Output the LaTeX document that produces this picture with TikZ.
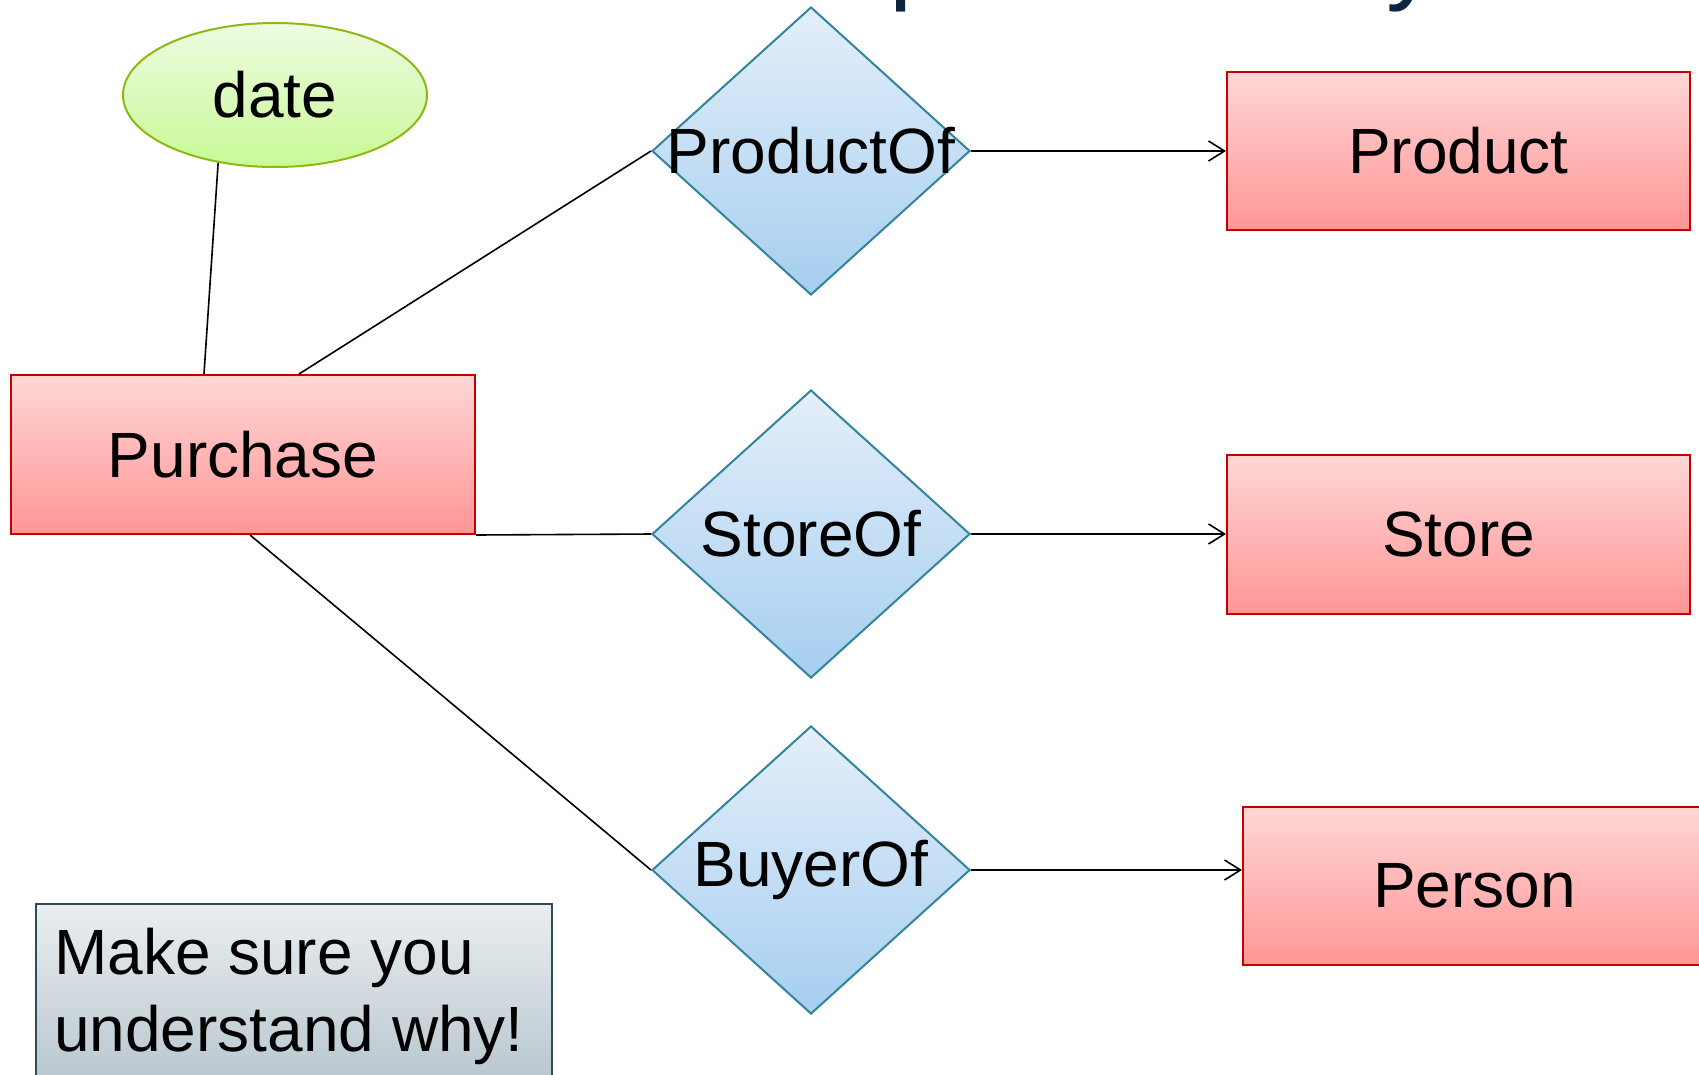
\documentclass[tikz,border=0pt]{standalone}
\usepackage{fontspec}
\setmainfont{Liberation Sans}
\usetikzlibrary{shapes.geometric,arrows.meta}

\definecolor{entTop}{RGB}{255,214,214}
\definecolor{entBot}{RGB}{255,150,150}
\definecolor{entLine}{RGB}{200,0,0}
\definecolor{relTop}{RGB}{228,239,250}
\definecolor{relBot}{RGB}{166,206,239}
\definecolor{relLine}{RGB}{49,132,155}
\definecolor{attTop}{RGB}{238,251,226}
\definecolor{attBot}{RGB}{200,250,150}
\definecolor{attLine}{RGB}{140,185,20}
\definecolor{noteTop}{RGB}{234,238,240}
\definecolor{noteBot}{RGB}{178,194,202}
\definecolor{noteLine}{RGB}{46,75,90}
\definecolor{titleBlue}{RGB}{15,36,62}

\tikzset{
  big/.style={font=\fontsize{64}{72}\selectfont},
  entity/.style={rectangle, draw=entLine, line width=2pt, top color=entTop,
    bottom color=entBot, inner sep=0pt, big},
  relship/.style={diamond, draw=relLine, line width=2pt, top color=relTop,
    bottom color=relBot, inner sep=0pt, minimum width=318pt, minimum height=288pt},
  attrib/.style={ellipse, draw=attLine, line width=2pt, top color=attTop,
    bottom color=attBot, inner sep=0pt, minimum width=304pt, minimum height=144pt, big},
  link/.style={draw=black, line width=1.6pt},
  arrowlink/.style={link, -{Straight Barb[length=16pt,width=20pt]}},
}

\begin{document}
\begin{tikzpicture}[x=1pt,y=-1pt]
\useasboundingbox (0,0) rectangle (1699,1074);
\clip (0,0) rectangle (1699,1074);
\fill[white] (0,0) rectangle (1699,1074);

% slide title (second line, mostly above the frame)
\node (title) [anchor=base west, inner sep=0pt, text=titleBlue,
  font=\fontsize{104}{120}\selectfont] at (375,-10) {Relationships to Binary};

% entities
\node (purchase) [entity, minimum width=464pt, minimum height=159pt] at (243,454.5) {Purchase};
\node (product)  [entity, minimum width=463pt, minimum height=158pt] at (1458.5,151) {Product};
\node (store)    [entity, minimum width=463pt, minimum height=159pt] at (1458.5,534.5) {Store};
\node (person)   [entity, minimum width=463pt, minimum height=158pt] at (1474.5,886) {Person};

% attribute
\node (date) [attrib] at (275,95) {date};

% relationships
\node (productof) [relship, label={[big]center:ProductOf}] at (811,151) {};
\node (storeof)   [relship, label={[big]center:StoreOf}]   at (811,534) {};
\node (buyerof)   [relship, label={[big]center:BuyerOf}]  at (811,870) {};

% connectors
\draw[link] (date.230) -- ([xshift=-39pt]purchase.north);
\draw[link] ([xshift=56pt]purchase.north) -- (productof.west);
\draw[link] (purchase.south east) -- (storeof.west);
\draw[link] ([xshift=7pt]purchase.south) -- (buyerof.west);

\draw[arrowlink] (productof.east) -- (product.west);
\draw[arrowlink] (storeof.east) -- (storeof.east -| store.west);
\draw[arrowlink] (buyerof.east) -- (buyerof.east -| person.west);

% note
\node (note) [rectangle, draw=noteLine, line width=2pt, top color=noteTop,
  bottom color=noteBot, minimum width=516pt, minimum height=200pt, inner sep=0pt,
  anchor=north west] at (35,903) {};
\node (note1) [big, anchor=base west, inner sep=0pt] at (54,974) {Make sure you};
\node (note2) [big, anchor=base west, inner sep=0pt] at (54,1051) {understand why!};
\end{tikzpicture}
\end{document}
